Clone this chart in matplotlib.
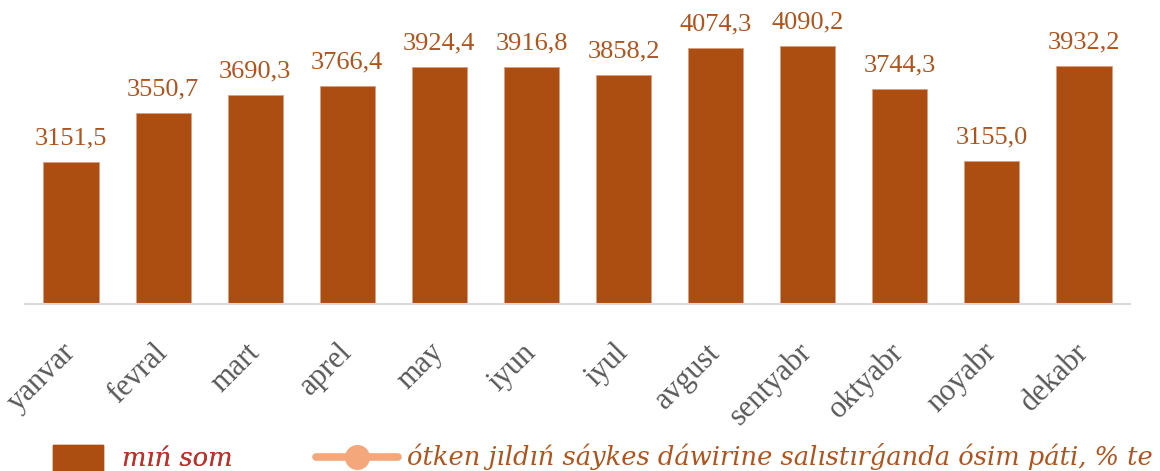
import matplotlib
matplotlib.use("Agg")
import matplotlib.pyplot as plt
from matplotlib.patches import Patch
from matplotlib.lines import Line2D

months = ["yanvar", "fevral", "mart", "aprel", "may", "iyun", "iyul",
          "avgust", "sentyabr", "oktyabr", "noyabr", "dekabr"]
values = [3151.5, 3550.7, 3690.3, 3766.4, 3924.4, 3916.8, 3858.2,
          4074.3, 4090.2, 3744.3, 3155.0, 3932.2]
labels = ["3151,5", "3550,7", "3690,3", "3766,4", "3924,4", "3916,8", "3858,2",
          "4074,3", "4090,2", "3744,3", "3155,0", "3932,2"]
legend_bar = "mıń som"
legend_line = "ótken jıldıń sáykes dáwirine salıstırǵanda ósim páti, % te"

bar_color = "#AC4E12"
label_color = "#B0541C"
serif = ["Liberation Serif", "DejaVu Serif"]
legfont = ["DejaVu Serif", "Liberation Serif"]

W, H = 1160, 471
fig = plt.figure(figsize=(W / 100, H / 100), dpi=100)
ax = fig.add_axes([25 / W, 1 - 303.5 / H, 1105 / W, 303.5 / H])

x = list(range(len(months)))
ax.bar(x, values, width=0.6, color=bar_color, edgecolor="#D9A080", linewidth=0.6,
       zorder=2)
ax.set_ylim(2000, 2000 + 303.5 * 8.12)
ax.set_xlim(-0.5, len(months) - 0.5)

for xi, v, lab in zip(x, values, labels):
    ax.annotate(lab, (xi, v), xytext=(0, 9), textcoords="offset points",
                ha="center", va="bottom", color=label_color, fontsize=19,
                family=serif)

for s in ["top", "right", "left"]:
    ax.spines[s].set_visible(False)
ax.spines["bottom"].set_color("#D9D9D9")
ax.spines["bottom"].set_linewidth(1.5)
ax.set_yticks([])
ax.set_xticks(x)
ax.set_xticklabels(months, rotation=45, ha="right", va="center",
                   rotation_mode="anchor", fontsize=22, color="#595959",
                   family=serif)
ax.tick_params(axis="x", length=0, pad=32)

fs = 18.5
px = fs * 100 / 72
prop = {"family": legfont, "style": "italic", "size": fs}
leg1 = fig.legend([Patch(facecolor=bar_color, edgecolor=bar_color)], [legend_bar],
                  loc="center left", bbox_to_anchor=(53 / W, 1 - 458 / H),
                  frameon=False, prop=prop, borderpad=0, borderaxespad=0,
                  handlelength=50 / px, handleheight=30 / px,
                  handletextpad=19 / px)
leg1.get_texts()[0].set_color("#C0302A")
leg2 = fig.legend([Line2D([0], [0], color="#F4A77A", lw=5.5, marker="o",
                          markersize=17, solid_capstyle="round")], [legend_line],
                  loc="center left", bbox_to_anchor=(316 / W, 1 - 457 / H),
                  frameon=False, prop=prop, borderpad=0, borderaxespad=0,
                  handlelength=82 / px, handletextpad=9 / px)
leg2.get_texts()[0].set_color("#B0541C")
fig.add_artist(leg1)

fig.savefig("out.png", dpi=100, facecolor="white")
